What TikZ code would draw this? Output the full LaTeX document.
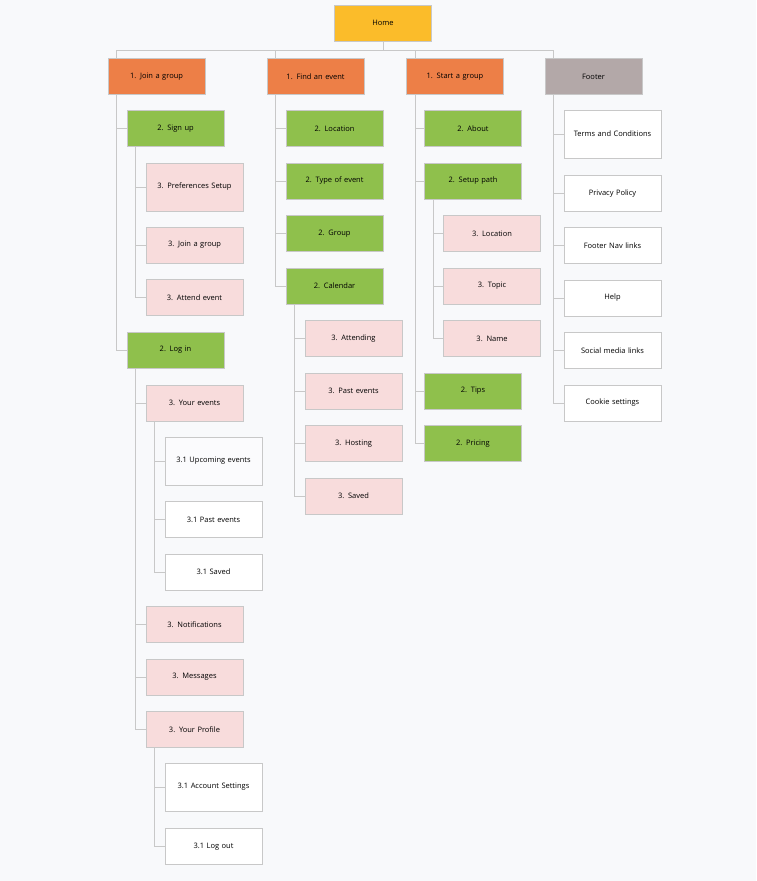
\documentclass[tikz,border=0pt]{standalone}
\usepackage{fontspec}
\setmainfont{Open Sans}
\usetikzlibrary{positioning}
\usetikzlibrary{calc}
\definecolor{home}{HTML}{FBBC2A}
\definecolor{top}{HTML}{ED7F47}
\definecolor{sub}{HTML}{8FC04C}
\definecolor{leaf}{HTML}{F8DCDC}
\definecolor{foot}{HTML}{B3A8A8}
\definecolor{edge}{HTML}{C8C8C8}
\definecolor{paper}{HTML}{F8F9FB}
\tikzset{
    sitemap/.style={
            x=1pt,y=-1pt,
            box/.style={draw=edge,line width=0.8pt,minimum width=97,minimum height=36,
                    inner sep=0pt,text width=82,align=center,
                    font=\fontsize{7.5}{10}\selectfont},
            tall/.style={minimum height=48},
            link/.style={draw=edge,line width=0.8pt}
        }
    }
\newcommand{\bx}[5]{\node[box,#4] (#1) at (#2,#3) {#5};}
\begin{document}
\begin{tikzpicture}[sitemap]
        \fill[paper] (0,0) rectangle (756,881);
        \useasboundingbox (0,0) rectangle (756,881);

        \bx{home}{383}{23}{fill=home}{Home}
        \bx{join}{156.5}{76.5}{fill=top}{1. Join a group}
        \bx{find}{315.5}{76.5}{fill=top}{1. Find an event}
        \bx{start}{455}{76.5}{fill=top}{1. Start a group}
        \bx{footer}{593.5}{76.5}{fill=foot}{Footer}

        % join a group
        \bx{signup}{175.5}{128.5}{fill=sub}{2. Sign up}
        \bx{prefs}{194.5}{187}{fill=leaf,tall}{3. Preferences Setup}
        \bx{joingr}{194.5}{245}{fill=leaf}{3. Join a group}
        \bx{attend}{194.5}{297.5}{fill=leaf}{3. Attend event}
        \bx{login}{175.5}{350}{fill=sub}{2. Log in}
        \bx{yourev}{194.5}{403}{fill=leaf}{3. Your events}
        \bx{upcoming}{213.5}{461}{fill=paper!60!white,tall}{3.1 Upcoming events}
        \bx{pastev}{213.5}{519.5}{fill=white}{3.1 Past events}
        \bx{savedev}{213.5}{572}{fill=white}{3.1 Saved}
        \bx{notif}{194.5}{624.5}{fill=leaf}{3. Notifications}
        \bx{msgs}{194.5}{677}{fill=leaf}{3. Messages}
        \bx{profile}{194.5}{729.5}{fill=leaf}{3. Your Profile}
        \bx{account}{213.5}{787}{fill=white,tall}{3.1 Account Settings}
        \bx{logout}{213.5}{846.5}{fill=white}{3.1 Log out}

        % find an event
        \bx{floc}{334.5}{128.5}{fill=sub}{2. Location}
        \bx{ftype}{334.5}{181}{fill=sub}{2. Type of event}
        \bx{fgroup}{334.5}{233.5}{fill=sub}{2. Group}
        \bx{fcal}{334.5}{286}{fill=sub}{2. Calendar}
        \bx{cattend}{353.5}{338.5}{fill=leaf}{3. Attending}
        \bx{cpast}{353.5}{391}{fill=leaf}{3. Past events}
        \bx{chost}{353.5}{443.5}{fill=leaf}{3. Hosting}
        \bx{csaved}{353.5}{496}{fill=leaf}{3. Saved}

        % start a group
        \bx{sabout}{473}{128.5}{fill=sub}{2. About}
        \bx{ssetup}{473}{181}{fill=sub}{2. Setup path}
        \bx{pLoc}{492}{233.5}{fill=leaf}{3. Location}
        \bx{ptopic}{492}{286}{fill=leaf}{3. Topic}
        \bx{pname}{492}{338.5}{fill=leaf}{3. Name}
        \bx{stips}{473}{391}{fill=sub}{2. Tips}
        \bx{sprice}{473}{443.5}{fill=sub}{2. Pricing}

        % footer
        \bx{terms}{612.5}{134}{fill=white,tall}{Terms and Conditions}
        \bx{privacy}{612.5}{193.5}{fill=white}{Privacy Policy}
        \bx{navlinks}{612.5}{245.5}{fill=white}{Footer Nav links}
        \bx{help}{612.5}{298}{fill=white}{Help}
        \bx{social}{612.5}{350.5}{fill=white}{Social media links}
        \bx{cookie}{612.5}{403}{fill=white}{Cookie settings}

        \draw[link] (home.south) -- ++(0,9) coordinate (bus);
        \foreach \c in {join,find,start,footer}
            \draw[link] (bus) -| ($(\c.north west)+(9,0)$);

        \foreach \p/\kids in {join/{signup,login},
                signup/{prefs,joingr,attend},
                login/{yourev,notif,msgs,profile},
                yourev/{upcoming,pastev,savedev},
                profile/{account,logout},
                find/{floc,ftype,fgroup,fcal},
                fcal/{cattend,cpast,chost,csaved},
                start/{sabout,ssetup,stips,sprice},
                ssetup/{pLoc,ptopic,pname},
                footer/{terms,privacy,navlinks,help,social,cookie}}
            \foreach \c in \kids
                \draw[link] ($(\p.south west)+(9,0)$) |- (\c.west);
    \end{tikzpicture}
\end{document}
